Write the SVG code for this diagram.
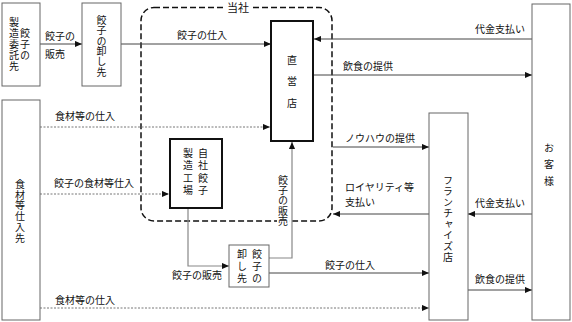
<svg xmlns="http://www.w3.org/2000/svg" width="572" height="322" viewBox="0 0 572 322">
<defs>
<style>
text{font-family:"Noto Sans CJK JP","Noto Sans CJK SC",sans-serif;font-size:10px;fill:#111}
.v{writing-mode:vertical-rl;text-anchor:start}
.box{fill:#fff;stroke:#666;stroke-width:1}
.thick{fill:#fff;stroke:#111;stroke-width:2}
.ln{fill:none;stroke:#444;stroke-width:1}
.gl{fill:none;stroke:#888;stroke-width:1.2}
.dot{fill:none;stroke:#777;stroke-width:1;stroke-dasharray:2 1.5}
.dash{fill:none;stroke:#111;stroke-width:1.5;stroke-dasharray:6 3}
.c{text-anchor:middle}
</style>
<marker id="ah" viewBox="0 0 8 8" refX="8" refY="4" markerWidth="7" markerHeight="7" markerUnits="userSpaceOnUse" orient="auto">
<path d="M0,0.5 L8,4 L0,7.5 z" fill="#111"/>
</marker>
</defs>
<rect width="572" height="322" fill="#fff"/>

<g id="boundary">
<rect class="dash" x="141" y="7.5" width="191" height="213.5" rx="13"/>
<rect x="224" y="1" width="28" height="13" fill="#fff"/>
<text x="238" y="12" class="c" style="font-size:11px">当社</text>
</g>

<g id="connectors">
<line class="ln" x1="40" y1="44" x2="82" y2="44" marker-end="url(#ah)"/>
<line class="ln" x1="121" y1="44" x2="271" y2="44" marker-end="url(#ah)"/>
<line class="ln" x1="532" y1="39" x2="314" y2="39" marker-end="url(#ah)"/>
<line class="ln" x1="313" y1="75" x2="532" y2="75" marker-end="url(#ah)"/>
<line class="dot" x1="40" y1="127" x2="270" y2="127" marker-end="url(#ah)"/>
<line class="dot" x1="40" y1="194" x2="169" y2="194" marker-end="url(#ah)"/>
<line class="ln" x1="333" y1="147" x2="429" y2="147" marker-end="url(#ah)"/>
<line class="ln" x1="429" y1="214" x2="333" y2="214" marker-end="url(#ah)"/>
<line class="ln" x1="532" y1="214" x2="468" y2="214" marker-end="url(#ah)"/>
<polyline class="gl" points="188,208 188,266 229,266" marker-end="url(#ah)"/>
<polyline class="gl" points="269,258 292,258 292,142" marker-end="url(#ah)"/>
<line class="ln" x1="269" y1="273" x2="429" y2="273" marker-end="url(#ah)"/>
<line class="dot" x1="40" y1="308" x2="429" y2="308" marker-end="url(#ah)"/>
<line class="ln" x1="468" y1="290" x2="532" y2="290" marker-end="url(#ah)"/>

<text><tspan x="45" y="39.5">餃子の</tspan><tspan x="45" y="58">販売</tspan></text>
<text x="202" y="38.5" class="c">餃子の仕入</text>
<text x="525" y="32.5" style="text-anchor:end">代金支払い</text>
<text x="343" y="69.5">飲食の提供</text>
<text x="55" y="119.5">食材等の仕入</text>
<text x="54" y="186.5">餃子の食材等仕入</text>
<text x="345" y="141.5">ノウハウの提供</text>
<text><tspan x="345" y="191">ロイヤリティ等</tspan><tspan x="345" y="205.5">支払い</tspan></text>
<text x="525" y="206.5" style="text-anchor:end">代金支払い</text>
<text x="172" y="278.5">餃子の販売</text>
<text x="325" y="268.5">餃子の仕入</text>
<text x="55" y="303.5">食材等の仕入</text>
<text x="525" y="282.5" style="text-anchor:end">飲食の提供</text>
<rect x="277" y="173" width="12" height="53" fill="#fff"/>
<text class="v" x="283" y="175" style="letter-spacing:0.3px">餃子の販売</text>
</g>

<g id="itaku">
<rect class="box" x="2" y="3" width="38" height="83"/>
<text class="v" x="25" y="28" style="letter-spacing:1px">餃子の</text>
<text class="v" x="14" y="17" style="letter-spacing:1px">製造委託先</text>
</g>

<g id="oroshi1">
<rect class="box" x="82" y="3" width="39" height="83"/>
<text class="v" x="101.5" y="15" style="letter-spacing:0.4px">餃子の卸し先</text>
</g>

<g id="shizai">
<rect class="box" x="2" y="100" width="38" height="220"/>
<text class="v" x="20" y="179" style="letter-spacing:0.8px">食材等仕入先</text>
</g>

<g id="chokuei">
<rect class="thick" x="271" y="21" width="42" height="120"/>
<text class="v" x="292" y="55" style="letter-spacing:11.5px">直営店</text>
</g>

<g id="factory">
<rect class="thick" x="170" y="139" width="52" height="69"/>
<text class="v" x="203" y="148" style="letter-spacing:2.5px">自社餃子</text>
<text class="v" x="188" y="148" style="letter-spacing:2.5px">製造工場</text>
</g>

<g id="oroshi2">
<rect class="box" x="229" y="245" width="40" height="42"/>
<text class="v" x="257" y="249" style="letter-spacing:2.2px">餃子の</text>
<text class="v" x="242" y="249" style="letter-spacing:2.2px">卸し先</text>
</g>

<g id="franchise">
<rect class="box" x="429" y="113" width="39" height="207"/>
<text class="v" x="448" y="175" style="letter-spacing:1.1px">フランチャイズ店</text>
</g>

<g id="customer">
<rect class="box" x="532" y="4" width="38" height="316"/>
<text class="v" x="549" y="143" style="letter-spacing:6.5px">お客様</text>
</g>
</svg>
